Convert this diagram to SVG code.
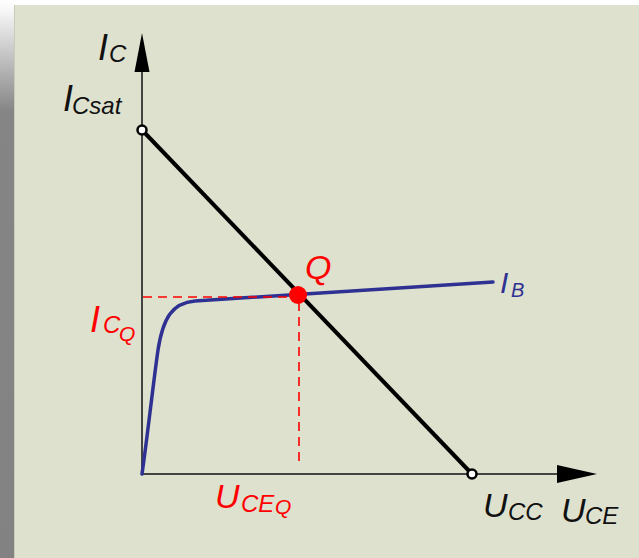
<svg xmlns="http://www.w3.org/2000/svg" width="639" height="558" viewBox="0 0 639 558">
<defs>
<linearGradient id="shadow" x1="0" y1="0" x2="0" y2="1" gradientUnits="objectBoundingBox">
<stop offset="0" stop-color="#ffffff"/>
<stop offset="0.02" stop-color="#f6f6f6"/>
<stop offset="0.2" stop-color="#858585"/>
<stop offset="1" stop-color="#828282"/>
</linearGradient>
<style>
.t{font-family:"Liberation Sans",Arial,sans-serif;font-style:italic}
.big{font-size:36px}
.u{font-size:34px}
.sub{font-size:24px}
.red{fill:#ff0000}
.blk{fill:#111}
.blu{fill:#2e3192}
.axis{stroke:#444;stroke-width:2;fill:none}
.dash{stroke:#ff0000;stroke-width:1.6;stroke-dasharray:9,6;fill:none}
.end{fill:#fff;stroke:#000;stroke-width:2.5}
</style>
</defs>
<rect x="0" y="0" width="639" height="558" fill="#ffffff"/>
<rect x="0" y="0" width="14" height="558" fill="url(#shadow)"/>
<rect x="14" y="5" width="625" height="553" fill="#dee1ce"/>
<line x1="14.5" y1="5" x2="14.5" y2="558" stroke="#c9ccba" stroke-width="1"/>

<g id="connectors">
<g id="y-axis">
<line class="axis" x1="142" y1="474" x2="142" y2="70"/>
<polygon points="142,33 149.5,72 134.5,72" fill="#000"/>
</g>
<g id="x-axis">
<line class="axis" x1="141" y1="474" x2="560" y2="474"/>
<polygon points="597,474 557,465 557,483" fill="#000"/>
</g>
<path id="ib-curve" d="M142,474 C147,440 153,385 158,350 C163,318 172,303 195,301 L493,282" fill="none" stroke="#2e3192" stroke-width="3.5" stroke-linecap="round"/>
<line id="load-line" x1="142" y1="130" x2="472" y2="474" stroke="#000" stroke-width="4"/>
<line class="dash" x1="143" y1="297" x2="296" y2="297"/>
<line class="dash" x1="299" y1="302" x2="299" y2="464"/>
</g>

<g id="node-icsat"><circle class="end" cx="142" cy="130" r="4.5"/></g>
<g id="node-ucc"><circle class="end" cx="472" cy="474" r="4.5"/></g>
<g id="node-q"><circle cx="298" cy="295" r="9" fill="#ff0000"/></g>

<g id="label-ic"><text class="t big blk" x="98" y="60">I</text><text class="t sub blk" x="109" y="62">C</text></g>
<g id="label-icsat"><text class="t big blk" x="63" y="111">I</text><text class="t sub blk" x="72" y="114">Csat</text></g>
<g id="label-icq"><text class="t big red" x="90" y="332">I</text><text class="t sub red" x="103" y="333">C</text><text class="t red" font-size="21" x="119" y="341">Q</text></g>
<g id="label-q"><text class="t u red" x="305" y="279">Q</text></g>
<g id="label-ib"><text class="t blu" font-size="30" x="500" y="293">I</text><text class="t blu" font-size="20" x="511" y="297">B</text></g>
<g id="label-uceq"><text class="t u red" x="215" y="508">U</text><text class="t sub red" x="241" y="512">CE</text><text class="t red" font-size="21" x="275" y="514">Q</text></g>
<g id="label-ucc"><text class="t u blk" x="483" y="517">U</text><text class="t sub blk" x="508" y="520">CC</text></g>
<g id="label-uce"><text class="t u blk" x="561" y="522">U</text><text class="t sub blk" x="585" y="524">CE</text></g>
</svg>
